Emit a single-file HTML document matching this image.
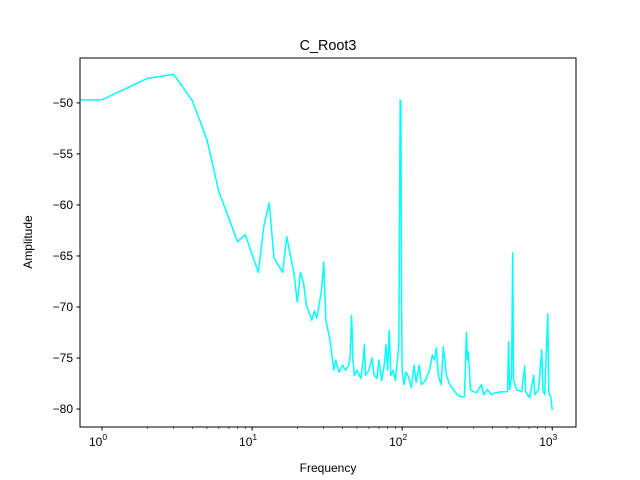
<!DOCTYPE html>
<html><head><meta charset="utf-8"><style>
body{margin:0;background:#fff;}
svg{display:block;font-family:"Liberation Sans","DejaVu Sans",sans-serif;}
</style></head><body>
<svg id="chart" width="640" height="480">
<rect x="0" y="0" width="640" height="480" fill="#fff"/>
<text x="328" y="50" text-anchor="middle" font-size="14.4">C_Root3</text>
<g id="plot"></g>
<rect x="80" y="58" width="496" height="369" fill="none" stroke="#000" stroke-width="1"/>
<text x="328" y="472" text-anchor="middle" font-size="12">Frequency</text>
<text x="0" y="0" transform="translate(32,242) rotate(-90)" text-anchor="middle" font-size="12">Amplitude</text>
</svg>
<script>
const freqs=[0.5,1,2,3,4,5,6,8,9,11,12,13,14,16,17,19,20,21,22,23,25,26,27,29,30,31,33,35,36,38,40,42,44,45,46,47,48,50,53,55,56,57,60,63,65,68,70,73,76,78,80,82,84,87,90,93,95,97,98,99,100,103,106,110,115,120,124,130,134,143,152,159,164,169,174,182,188,197,206,219,233,248,260,268,272,276,285,299,313,338,348,370,394,419,459,504,512,520,536,545,552,579,626,655,665,707,752,764,812,851,865,891,934,948,977,1000];
const amps=[-49.7,-49.7,-47.6,-47.2,-49.8,-53.6,-58.7,-63.6,-62.9,-66.6,-62,-59.8,-65.2,-66.6,-63.1,-66.7,-69.5,-66.6,-67.6,-69.8,-71.3,-70.4,-71.1,-68.4,-65.6,-71.3,-73.2,-76.2,-75.2,-76.4,-75.7,-76.2,-75.7,-74.8,-70.8,-75.2,-76.7,-76.2,-77,-75.2,-73.7,-76.7,-76.2,-75,-76.7,-77,-75.2,-77.2,-75.7,-73.7,-76.2,-72.3,-76.7,-76.2,-77.2,-75.2,-73.7,-49.7,-49.9,-69.3,-76.2,-77.6,-76.4,-76.8,-77.9,-75.7,-77.4,-75.7,-77.6,-77.2,-76.2,-74.7,-75.2,-74.0,-76.7,-77.6,-73.9,-76.7,-77.5,-78.1,-78.6,-78.8,-78.8,-72.5,-75.2,-74.4,-78.1,-78.3,-78.4,-77.6,-78.6,-78.1,-78.6,-78.4,-78.3,-78.3,-73.4,-78.1,-76.7,-64.7,-77.2,-78.1,-78.3,-75.8,-78.3,-78.9,-76.7,-78.6,-78.1,-74.2,-78.1,-78.6,-70.7,-78.4,-78.8,-80.1];
const xTicks=[1,10,100,1000];
const xTickLabels=["0","1","2","3"];
const yTicks=[-50,-55,-60,-65,-70,-75,-80];
const NS="http://www.w3.org/2000/svg";
const L=80,R=576,T=58,B=427;
const xMinLog=Math.log10(0.713),xMaxLog=Math.log10(1440);
const yMin=-81.76,yMax=-45.6;
function xs(f){return L+(Math.log10(f)-xMinLog)/(xMaxLog-xMinLog)*(R-L);}
function ys(v){return B-(v-yMin)/(yMax-yMin)*(B-T);}
const plot=document.getElementById('plot');
const svg=document.getElementById('chart');
// clip
const defs=document.createElementNS(NS,'defs');
defs.innerHTML='<clipPath id="clip"><rect x="80" y="58" width="496" height="369"/></clipPath>';
svg.insertBefore(defs,svg.firstChild);
let d='';
freqs.forEach((f,i)=>{d+=(i?'L':'M')+xs(f).toFixed(2)+','+ys(amps[i]).toFixed(2);});
const path=document.createElementNS(NS,'path');
path.setAttribute('d',d);
path.setAttribute('fill','none');
path.setAttribute('stroke','#00ffff');
path.setAttribute('stroke-width','1.5');
path.setAttribute('stroke-linejoin','round');
path.setAttribute('clip-path','url(#clip)');


plot.appendChild(path);
xTicks.forEach((t,i)=>{
  const x=xs(t);
  const ln=document.createElementNS(NS,'line');
  ln.setAttribute('x1',x);ln.setAttribute('x2',x);ln.setAttribute('y1',B);ln.setAttribute('y2',B+3.5);
  ln.setAttribute('stroke','#000');
  
  
  plot.appendChild(ln);
  const tx=document.createElementNS(NS,'text');
  tx.setAttribute('x',x-4);tx.setAttribute('y',B+19);tx.setAttribute('text-anchor','middle');tx.setAttribute('font-size','12');
  tx.innerHTML='10<tspan font-size="8.5" dy="-6">'+xTickLabels[i]+'</tspan>';
  
  
  plot.appendChild(tx);
  for(let k=2;k<10;k++){
    const m=t*k; if(m>1440) break;
    const mx=xs(m);
    const ml=document.createElementNS(NS,'line');
    ml.setAttribute('x1',mx);ml.setAttribute('x2',mx);ml.setAttribute('y1',B);ml.setAttribute('y2',B+2);
    ml.setAttribute('stroke','#000');ml.setAttribute('stroke-width','0.6');
    
    
    plot.appendChild(ml);
  }
});
yTicks.forEach(t=>{
  const y=ys(t);
  const ln=document.createElementNS(NS,'line');
  ln.setAttribute('x1',L-3.5);ln.setAttribute('x2',L);ln.setAttribute('y1',y);ln.setAttribute('y2',y);
  ln.setAttribute('stroke','#000');
  
  
  plot.appendChild(ln);
  const tx=document.createElementNS(NS,'text');
  tx.setAttribute('x',L-7);tx.setAttribute('y',y+4);tx.setAttribute('text-anchor','end');tx.setAttribute('font-size','12');
  tx.textContent='\u2212'+Math.abs(t);
  
  
  plot.appendChild(tx);
});
</script>
</body></html>
